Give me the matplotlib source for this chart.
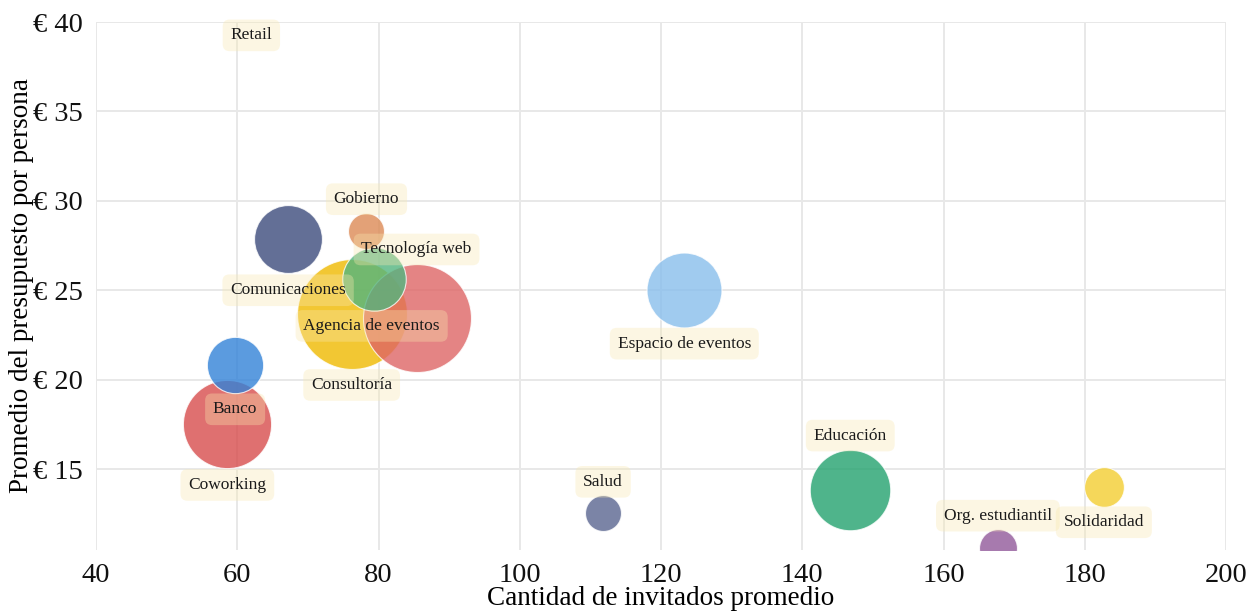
import matplotlib
matplotlib.use("Agg")
import matplotlib.pyplot as plt
from matplotlib.ticker import FuncFormatter, MultipleLocator
import numpy as np

# Sector data: average guests, average budget per person (EUR), number of events
sectores = ["Retail", "Comunicaciones", "Gobierno", "Tecnología web", "Consultoría",
            "Agencia de eventos", "Banco", "Coworking", "Espacio de eventos", "Salud",
            "Educación", "Solidaridad", "Org. estudiantil"]
invitados = [62.0, 67.2, 78.3, 79.3, 76.2, 85.4, 59.7, 58.6, 123.3, 111.8, 146.8, 182.7, 167.7]
presupuesto = [43.0, 27.85, 28.3, 25.6, 23.67, 23.45, 20.8, 17.52, 25.03, 12.55, 13.85, 13.98, 10.6]
eventos = [9, 32, 9, 28, 84, 81, 22, 54, 39, 9, 45, 11, 10]

colores = ["#d88147", "#3c4b7c", "#dc8a55", "#52b57f", "#efba00", "#de6565", "#3282d8",
           "#d74c4c", "#88beec", "#5a6590", "#23a26e", "#f3ce31", "#91599a"]

# Label offsets from bubble centre, in pixels (right, down)
label_offset = [(0, 67), (0, 51), (0, -32), (43, -30), (0, 71), (-45, 8), (0, 44),
                (0, 61), (0, 54), (0, -31), (0, -54), (0, 35), (0, -32)]

DPI = 100
plt.rcParams["font.family"] = ["Liberation Serif", "DejaVu Serif"]

fig = plt.figure(figsize=(12.57, 6.13), dpi=DPI)
ax = fig.add_axes([96 / 1257, 1 - 550 / 613, 1130 / 1257, 528 / 613])

ax.set_xlim(40, 200)
ax.set_ylim(10.47, 40)
ax.xaxis.set_major_locator(MultipleLocator(20))
ax.yaxis.set_major_locator(MultipleLocator(5))
ax.yaxis.set_major_formatter(FuncFormatter(lambda v, _: f"€ {v:.0f}"))
ax.grid(True, color="#e8e8e8", linewidth=1.4)
ax.set_axisbelow(True)
for s in ax.spines.values():
    s.set_visible(False)
ax.tick_params(length=0, labelsize=20.5, pad=9.5, labelcolor="#111111")

# bubble area proportional to event count
px_per_pt = DPI / 72.0
sizes = [(2 * 6.0 * np.sqrt(n) / px_per_pt) ** 2 for n in eventos]

order = np.argsort(eventos)[::-1]
for z, i in enumerate(order):
    ax.scatter(invitados[i], presupuesto[i], s=sizes[i], color=colores[i], alpha=0.8,
               edgecolors="white", linewidths=0.8, zorder=3 + z * 0.01)

for i, name in enumerate(sectores):
    dx, dy = label_offset[i]
    ax.annotate(name, (invitados[i], presupuesto[i]),
                xytext=(dx / px_per_pt, -dy / px_per_pt), textcoords="offset points",
                ha="center", va="center", fontsize=12.5, color="#1a1a1a",
                annotation_clip=False, zorder=10,
                bbox=dict(boxstyle="round,pad=0.45,rounding_size=0.4",
                          fc="#f9e8af", ec="none", alpha=0.35))

ax.set_xlabel("Cantidad de invitados promedio", fontsize=19.5, va="baseline")
ax.set_ylabel("Promedio del presupuesto por persona", fontsize=19.5, va="center")
ax.yaxis.set_label_coords(-0.0655, 0.5)
ax.xaxis.set_label_coords(0.5, -0.105)

fig.savefig("out.png", dpi=DPI, facecolor="white")
